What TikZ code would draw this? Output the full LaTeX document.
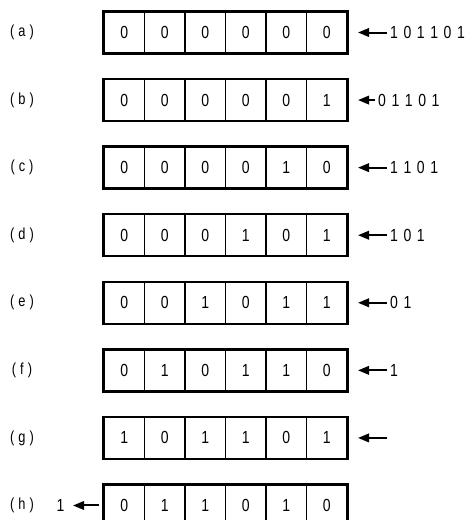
\documentclass[tikz,border=0pt]{standalone}
\usepackage{fontspec}
\setmainfont[FakeStretch=0.8]{Liberation Sans}
\usetikzlibrary{arrows.meta}
\newcommand\gp{\kern5.6pt}
\newcommand\lp{\kern4pt}
\begin{document}
\begin{tikzpicture}[x=1pt,y=-1pt,
  cell/.style={draw,line width=1.4pt,minimum width=40.5pt,minimum height=41pt,
    inner sep=0pt,font=\fontsize{17.5}{17.5}\selectfont,anchor=center},
  lbl/.style={font=\fontsize{16}{16}\selectfont,inner sep=0pt},
  bits/.style={font=\fontsize{17.5}{17.5}\selectfont,anchor=west,inner sep=0pt},
  outer/.style={draw,line width=2pt},
  shiftarrow/.style={line width=2pt,-{Triangle[length=11pt,width=8.5pt]}}]
\clip (0,0) rectangle (467,520);
\fill[white] (0,0) rectangle (467,520);
\foreach \r/\l/\cs/\tx/\txt in {
  1/a/{0,0,0,0,0,0}/387/{1\gp0\gp1\gp1\gp0\gp1},
  2/b/{0,0,0,0,0,1}/375/{0\gp1\gp1\gp0\gp1},
  3/c/{0,0,0,0,1,0}/387/{1\gp1\gp0\gp1},
  4/d/{0,0,0,1,0,1}/387/{1\gp0\gp1},
  5/e/{0,0,1,0,1,1}/387/{0\gp1},
  6/f/{0,1,0,1,1,0}/387/{1},
  7/g/{1,0,1,1,0,1}/387/{},
  8/h/{0,1,1,0,1,0}/0/{}}
{
  \pgfmathsetmacro\yy{32.5+67.57*(\r-1)}
  \node[lbl] (lab\r) at (22,\yy) {(\lp\l\lp)};
  \foreach \c [count=\k] in \cs {
    \node[cell] (r\r c\k) at ({104+40.5*(\k-0.5)},\yy) {\c};
  }
  \draw[outer] (r\r c1.north west) rectangle (r\r c6.south east);
  \ifnum\r<8
    \coordinate (tail\r) at (\tx,\yy);
    \coordinate (tip\r) at (358,\yy);
    \draw[shiftarrow] (tail\r) -- (tip\r);
    \node[bits] (txt\r) at ({\tx+3},\yy) {\txt};
  \else
    \coordinate (tail\r) at (99,\yy);
    \coordinate (tip\r) at (73,\yy);
    \draw[shiftarrow] (tail\r) -- (tip\r);
    \node[bits,anchor=center] (out\r) at (60.5,\yy) {1};
  \fi
}
\end{tikzpicture}
\end{document}
